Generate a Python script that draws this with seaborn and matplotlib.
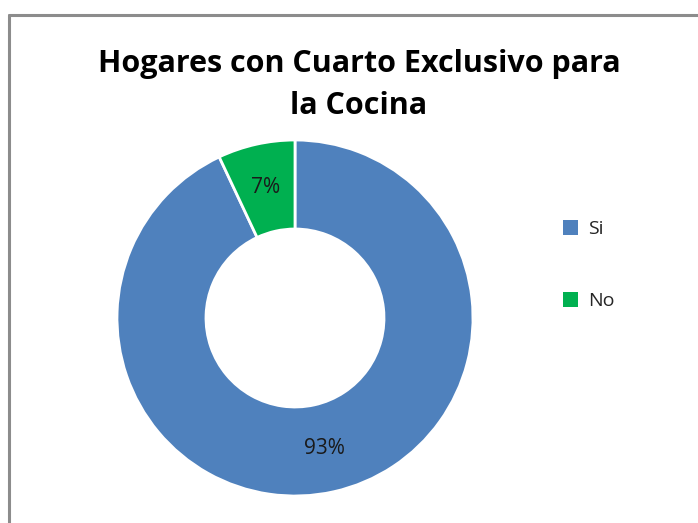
import matplotlib
matplotlib.use("Agg")
import matplotlib.pyplot as plt
import seaborn as sns
from matplotlib.lines import Line2D
from matplotlib.patches import Patch

# Datos
categorias = ["Si", "No"]
porcentajes = [93, 7]
colores = ["#4F81BD", "#00B050"]
titulo = "Hogares con Cuarto Exclusivo para\nla Cocina"

sns.set_style("white")
plt.rcParams["font.family"] = ["Open Sans", "DejaVu Sans"]

fig = plt.figure(figsize=(6.98, 5.23), dpi=100)

# marco del grafico (solo borde superior e izquierdo visibles)
fig.add_artist(Line2D([9 / 698, 9 / 698], [0, 1 - 15 / 523], transform=fig.transFigure,
                      color="#8c8c8c", lw=2.2))
fig.add_artist(Line2D([9 / 698, 1], [1 - 15 / 523, 1 - 15 / 523], transform=fig.transFigure,
                      color="#8c8c8c", lw=2.2))

r = 178
ax = fig.add_axes([(295 - r) / 698, (523 - 318 - r) / 523, 2 * r / 698, 2 * r / 523])
wedges, texts, autotexts = ax.pie(
    porcentajes,
    colors=colores,
    startangle=90,
    counterclock=False,
    autopct="%1.0f%%",
    pctdistance=0.75,
    wedgeprops=dict(width=0.5, edgecolor="white", linewidth=2),
    textprops=dict(fontsize=15, color="#1a1a1a"),
)
ax.set_xlim(-1.0, 1.0)
ax.set_ylim(-1.0, 1.0)
ax.set_aspect("equal")
ax.axis("off")

fig.text(359 / 698, 1 - 85 / 523, titulo, ha="center", va="center",
         fontsize=22, fontweight="bold", linespacing=1.5, color="#000000")

handles = [Patch(facecolor=c, edgecolor="none") for c in colores]
fig.legend(handles, categorias, loc="center left", bbox_to_anchor=(545 / 698, 1 - 265 / 523),
           frameon=False, fontsize=14, labelspacing=2.75, handlelength=0.8, handleheight=0.8,
           handletextpad=0.5)

fig.savefig("out.png", dpi=100)
